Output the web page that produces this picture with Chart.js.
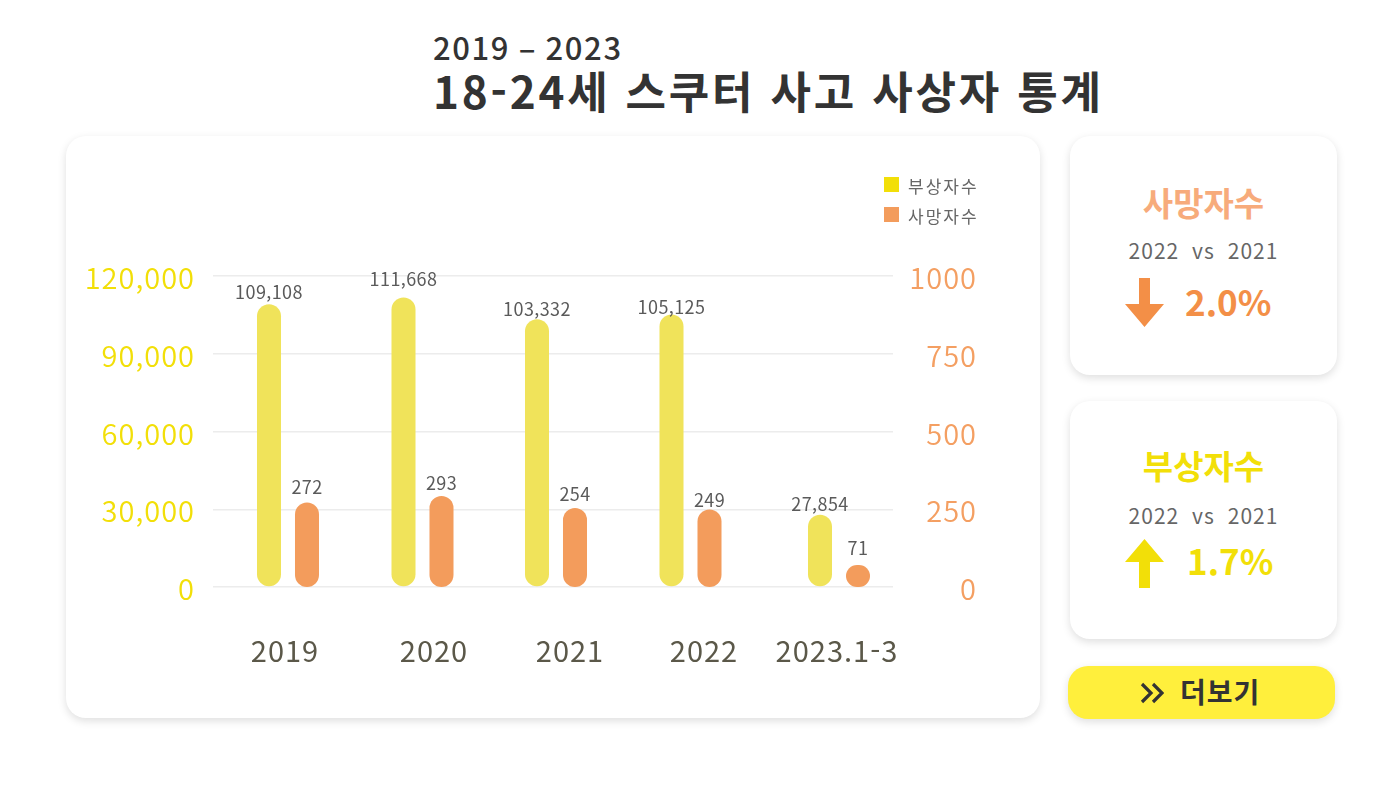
<!DOCTYPE html>
<html lang="ko">
<head>
<meta charset="utf-8">
<title>18-24세 스쿠터 사고 사상자 통계</title>
<script src="https://cdn.jsdelivr.net/npm/chart.js@4"></script>
<style>
  html, body { margin: 0; background: #fff; }
  body { width: 1400px; height: 790px; position: relative; overflow: hidden; font-family: "Noto Sans CJK KR", "Noto Sans", sans-serif; }
  .abs { position: absolute; white-space: nowrap; line-height: 1; }
  .card { position: absolute; background: #fff; border-radius: 20px; box-shadow: 0 3px 9px rgba(0,0,0,.13); }
  .center { left: 1070px; width: 267px; text-align: center; }
  .arrow { position: absolute; left: 1125px; width: 39px; height: 49px; }
  .swatch { position: absolute; left: 884px; width: 15px; height: 15px; }
  .legend-text { left: 908px; font-size: 17px; color: #666; letter-spacing: 2px; }
  .versus { font-size: 21px; color: #666; word-spacing: 6px; letter-spacing: 1px; }
</style>
</head>
<body>
<div class="abs" style="left:433px;top:31px;font-size:31px;font-weight:500;color:#333;letter-spacing:1.6px">2019 – 2023</div>
<div class="abs" style="left:433px;top:68px;font-size:44px;font-weight:700;color:#333;letter-spacing:2.8px">18-24세 스쿠터 사고 사상자 통계</div>

<div class="card" style="left:66px;top:136px;width:974px;height:582px">
  <canvas id="chart" width="974" height="582" style="display:block;width:974px;height:582px"></canvas>
</div>

<div id="legend"></div>

<div class="card" style="left:1070px;top:136px;width:267px;height:239px"></div>
<div class="abs center" style="top:186px;font-size:33px;font-weight:700;color:#f7ab7b">사망자수</div>
<div class="abs center versus" style="top:240px">2022 vs 2021</div>
<svg class="arrow" style="top:278px" viewBox="0 0 39 49"><polygon points="14,0 25,0 25,26 39,26 19.5,49 0,26 14,26" fill="#f38f47"/></svg>
<div class="abs" style="left:1185px;top:283px;font-size:35px;font-weight:700;color:#f38f47">2.0%</div>

<div class="card" style="left:1070px;top:401px;width:267px;height:238px"></div>
<div class="abs center" style="top:449px;font-size:33px;font-weight:700;color:#f2df08">부상자수</div>
<div class="abs center versus" style="top:505px">2022 vs 2021</div>
<svg class="arrow" style="top:539px" viewBox="0 0 39 49"><polygon points="19.5,0 39,23 25,23 25,49 14,49 14,23 0,23" fill="#f2df08"/></svg>
<div class="abs" style="left:1187px;top:542px;font-size:35px;font-weight:700;color:#f2df08">1.7%</div>

<div class="card" style="left:1068px;top:666px;width:267px;height:53px;background:#ffef3c"></div>
<svg class="abs" style="left:1140px;top:682px" width="24" height="22" viewBox="0 0 24 22"><path d="M2 2 L11 11 L2 20 M13 2 L22 11 L13 20" fill="none" stroke="#333" stroke-width="3.2"/></svg>
<div class="abs" style="left:1180px;top:677px;font-size:28px;font-weight:700;color:#333;letter-spacing:1px">더보기</div>

<script>
const categories = ['2019', '2020', '2021', '2022', '2023.1-3'];
const injured = [109108, 111668, 103332, 105125, 27854];
const deaths = [272, 293, 254, 249, 71];
const injuredTicks = [0, 30000, 60000, 90000, 120000];
const deathTicks = [0, 250, 500, 750, 1000];
const injuredName = '부상자수';
const deathName = '사망자수';

const INJURED_COLOR = '#f0e35a';
const DEATH_COLOR = '#f39c5c';
const FONT = '"Noto Sans CJK KR", "Noto Sans", sans-serif';

// The groups and their labels are not evenly spaced in the original
const GROUP_SHIFT = [7, 5.5, 3, 1.5, 14];
const LABEL_SHIFT = [4, 17, 17, 15, 12];
const INJURED_LIFT = [12, 18, 10, 7, 11];
const DEATH_LIFT = [15, 13, 14, 9, 17];

class ShiftedCategoryScale extends Chart.CategoryScale {
  getPixelForValue(value) {
    return super.getPixelForValue(value) + (GROUP_SHIFT[value] || 0);
  }
  getPixelForTick(index) {
    return super.getPixelForValue(this.ticks[index].value) + LABEL_SHIFT[index];
  }
}
ShiftedCategoryScale.id = 'shiftedCategory';
ShiftedCategoryScale.defaults = Chart.CategoryScale.defaults;
Chart.register(ShiftedCategoryScale);

const tickSpacing = {
  id: 'tickSpacing',
  beforeDraw(chart) {
    chart.ctx.letterSpacing = '1px';
  }
};

const valueLabels = {
  id: 'valueLabels',
  afterDatasetsDraw(chart) {
    const { ctx } = chart;
    ctx.save();
    ctx.letterSpacing = '0.4px';
    ctx.font = '18px ' + FONT;
    ctx.fillStyle = '#5a5a5a';
    ctx.textAlign = 'center';
    ctx.textBaseline = 'middle';
    chart.data.datasets.forEach((ds, d) => {
      const lift = d === 0 ? INJURED_LIFT : DEATH_LIFT;
      chart.getDatasetMeta(d).data.forEach((bar, i) => {
        ctx.fillText(ds.data[i].toLocaleString('en-US'), bar.x, bar.y - lift[i]);
      });
    });
    ctx.restore();
  }
};

new Chart(document.getElementById('chart'), {
  type: 'bar',
  data: {
    labels: categories,
    datasets: [
      { label: injuredName, data: injured, yAxisID: 'y', backgroundColor: INJURED_COLOR },
      { label: deathName, data: deaths, yAxisID: 'y1', backgroundColor: DEATH_COLOR }
    ]
  },
  options: {
    responsive: false,
    animation: false,
    devicePixelRatio: 1,
    layout: { padding: { top: 140, right: 63, left: 0, bottom: 0 } },
    categoryPercentage: 0.5714,
    barPercentage: 0.632,
    borderRadius: 12,
    borderSkipped: false,
    plugins: { legend: { display: false }, tooltip: { enabled: false } },
    scales: {
      x: {
        type: 'shiftedCategory',
        grid: { display: false },
        border: { display: false },
        afterFit: s => { s.height = 131; },
        ticks: { color: '#5b5849', font: { family: FONT, size: 29 }, padding: 39, maxRotation: 0, autoSkip: false }
      },
      y: {
        position: 'left',
        min: 0,
        max: 120000,
        afterBuildTicks: s => { s.ticks = injuredTicks.map(value => ({ value })); },
        afterFit: s => { s.width = 147; },
        grid: { color: '#ececec', lineWidth: 1.5, drawTicks: false },
        border: { display: false },
        ticks: { color: '#f2df08', font: { family: FONT, size: 29, weight: 350 }, padding: 18, labelOffset: 2, callback: v => v.toLocaleString('en-US') }
      },
      y1: {
        position: 'right',
        min: 0,
        max: 1000,
        afterBuildTicks: s => { s.ticks = deathTicks.map(value => ({ value })); },
        afterFit: s => { s.width = 84; },
        grid: { display: false },
        border: { display: false },
        ticks: { color: '#f49f62', font: { family: FONT, size: 29, weight: 350 }, crossAlign: 'far', labelOffset: 2, callback: v => String(v) }
      }
    }
  },
  plugins: [tickSpacing, valueLabels]
});

document.getElementById('legend').innerHTML = `
  <div class="swatch" style="top:177px;background:#f2df08"></div>
  <div class="abs legend-text" style="top:177px">${injuredName}</div>
  <div class="swatch" style="top:207px;background:${DEATH_COLOR}"></div>
  <div class="abs legend-text" style="top:207px">${deathName}</div>
`;
</script>
</body>
</html>
